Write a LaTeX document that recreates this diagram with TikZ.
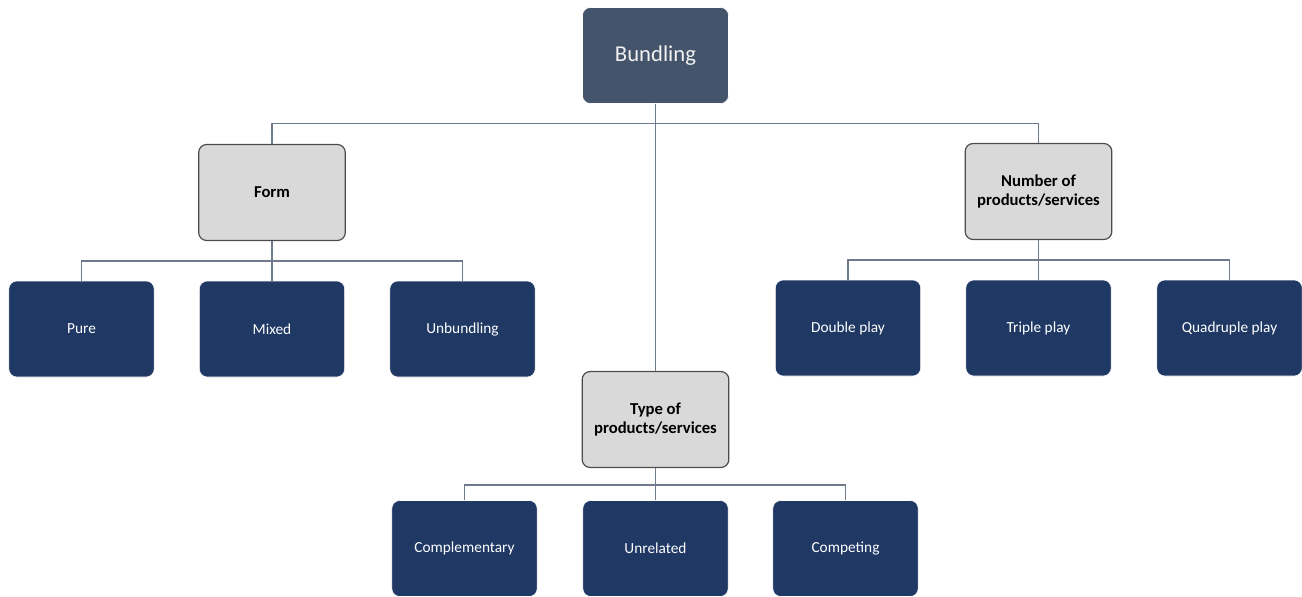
\documentclass[tikz,border=0pt]{standalone}
\usepackage{fontspec}
\setmainfont{Carlito}
\usepackage{xcolor}
\usepackage{tikz}
\usetikzlibrary{positioning, calc}
\definecolor{rootfill}{HTML}{44546A}
\definecolor{leaffill}{HTML}{1F3864}
\definecolor{groupfill}{HTML}{D9D9D9}
\definecolor{linkcol}{HTML}{6F7B8C}

\begin{document}
\begin{tikzpicture}[
  x=0.75pt, y=-0.75pt,
  root/.style={rectangle, draw=white, fill=rootfill, rounded corners=6pt,
               minimum height=72pt, minimum width=109.5pt, align=center,
               text=white!95!black, font=\fontsize{17}{20}\selectfont},
  group/.style={rectangle, draw=black!70, line width=0.9pt, fill=groupfill,
                rounded corners=6pt, minimum height=72pt, minimum width=110pt,
                align=center, font=\fontsize{12.5}{14}\selectfont\bfseries},
  leaf/.style={rectangle, draw=white, fill=leaffill, rounded corners=6pt,
               minimum height=72pt, minimum width=109pt, align=center,
               text=white, font=\fontsize{11.5}{13}\selectfont},
  link/.style={draw=linkcol, line width=1pt},
]
\useasboundingbox (0,0) rectangle (1302,596);

% Top: root node
\node[root] at (655.5, 55.5) (bundling) {Bundling};

% Second row: the three groupings
\node[group] at ( 272.0, 192.5) (form)   {Form};
\node[group] at (1038.5, 191.5) (number) {Number of\\products/services};
\node[group] at ( 655.5, 419.5) (type)   {Type of\\products/services};

% Leaves under Form
\node[leaf] at ( 81.5, 329) (pure)       {Pure};
\node[leaf] at (272.0, 329) (mixed)      {Mixed};
\node[leaf] at (462.5, 329) (unbundling) {Unbundling};

% Leaves under Number
\node[leaf] at ( 848.0, 328) (double)    {Double play};
\node[leaf] at (1038.5, 328) (triple)    {Triple play};
\node[leaf] at (1229.5, 328) (quadruple) {Quadruple play};

% Leaves under Type
\node[leaf] at (464.5, 548.5) (complementary) {Complementary};
\node[leaf] at (655.5, 548.5) (unrelated)     {Unrelated};
\node[leaf] at (845.5, 548.5) (competing)     {Competing};

% Connectors from the root
\draw[link] (bundling.south) -- ++(0,20) -| (form.north);
\draw[link] (bundling.south) -- ++(0,20) -| (number.north);
\draw[link] (bundling.south) -- (type.north);

% Connectors to the leaves
\draw[link] (form.south) -- ++(0,20) -| (pure.north);
\draw[link] (form.south) -- (mixed.north);
\draw[link] (form.south) -- ++(0,20) -| (unbundling.north);

\draw[link] (number.south) -- ++(0,20) -| (double.north);
\draw[link] (number.south) -- (triple.north);
\draw[link] (number.south) -- ++(0,20) -| (quadruple.north);

\draw[link] (type.south) -- ++(0,17) -| (complementary.north);
\draw[link] (type.south) -- (unrelated.north);
\draw[link] (type.south) -- ++(0,17) -| (competing.north);
\end{tikzpicture}
\end{document}
